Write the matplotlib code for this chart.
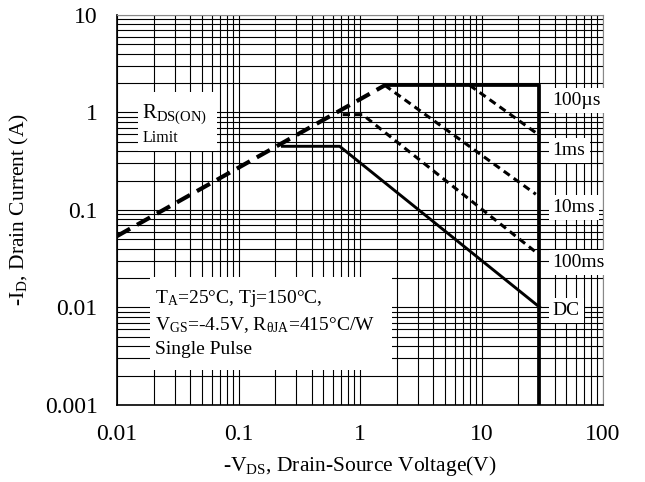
import matplotlib
matplotlib.use('Agg')
import matplotlib.pyplot as plt
from matplotlib.patches import Rectangle

plt.rcParams['font.family'] = ['Liberation Serif', 'DejaVu Serif']
plt.rcParams['mathtext.fontset'] = 'custom'
plt.rcParams['mathtext.rm'] = 'Liberation Serif'
plt.rcParams['mathtext.it'] = 'Liberation Serif:italic'

# safe operating area curves (V, A)
rds_v = [0.01, 1.6]
rds_i = [0.054, 1.9]
imax_v = [1.6, 30, 30]
imax_i = [1.9, 1.9, 0.001]
us100_v = [8.0, 28]
us100_i = [1.9, 0.62]
ms1_v = [1.6, 28]
ms1_i = [1.9, 0.145]
ms10_v = [0.72, 1.05, 28]
ms10_i = [0.95, 0.95, 0.037]
dc_v = [0.23, 0.68, 30]
dc_i = [0.45, 0.45, 0.0101]

curve_labels = ['100µs', '1ms', '10ms', '100ms', 'DC']
label_i = [1.34, 0.41, 0.107, 0.029, 0.0093]
label_v = 38.5

fig = plt.figure(figsize=(6.45, 4.82), dpi=100)
ax = fig.add_axes([0.1814, 0.1598, 0.7535, 0.8091])
ax.set_xscale('log'); ax.set_yscale('log')
ax.set_xlim(0.01, 100); ax.set_ylim(0.001, 10)

ax.grid(True, which='both', color='black', lw=0.8)
ax.set_axisbelow(True)
ax.tick_params(which='both', length=0, labelsize=17)
ax.tick_params(axis='x', pad=14)
ax.tick_params(axis='y', pad=14)
ax.set_xticks([0.01, 0.1, 1, 10, 100], ['0.01', '0.1', '1', '10', '100'])
ax.set_yticks([0.001, 0.01, 0.1, 1, 10], ['0.001', '0.01', '0.1', '1', '10'])
for s in ['top', 'right']:
    ax.spines[s].set_color('#888888')
for s in ['bottom', 'left']:
    ax.spines[s].set_linewidth(1.2)

# white boxes behind the annotations
box = dict(zorder=1.5, fc='white', ec='none', transform=ax.transAxes)
ax.add_patch(Rectangle((0.043, 0.652), 0.163, 0.151, **box))
ax.add_patch(Rectangle((0.068, 0.090), 0.498, 0.239, **box))

ax.plot(rds_v, rds_i, color='black', lw=3.0, dashes=(3.6, 1.9), zorder=3)
ax.plot(imax_v, imax_i, color='black', lw=2.7, zorder=3)
ax.plot(us100_v, us100_i, color='black', lw=2.2, dashes=(2.4, 1.6), zorder=3)
ax.plot(ms1_v, ms1_i, color='black', lw=2.2, dashes=(2.4, 1.6), zorder=3)
ax.plot(ms10_v, ms10_i, color='black', lw=2.2, dashes=(2.4, 1.6), zorder=3)
ax.plot(dc_v, dc_i, color='black', lw=2.1, zorder=3)

for lab, y in zip(curve_labels, label_i):
    ax.text(label_v, y, lab, fontsize=14, va='center', ha='left', zorder=4,
            bbox=dict(fc='white', ec='none', pad=3))

ax.text(0.052, 0.745, r'R$_\mathrm{DS(ON)}$', transform=ax.transAxes,
        fontsize=15, va='center', zorder=4)
ax.text(0.052, 0.685, 'Limit', transform=ax.transAxes, fontsize=11.5,
        va='center', zorder=4)

cond = ('T$_\\mathrm{A}$=25°C, Tj=150°C,\n'
        'V$_\\mathrm{GS}$=-4.5V, R$_\\mathrm{θJA}$=415°C/W\n'
        'Single Pulse')
ax.text(0.078, 0.21, cond, transform=ax.transAxes, fontsize=14,
        va='center', ha='left', linespacing=1.45, zorder=4)

ax.set_xlabel(r'-V$_\mathrm{DS}$, Drain-Source Voltage(V)', fontsize=15.5, labelpad=6)
ax.set_ylabel(r'-I$_\mathrm{D}$, Drain Current (A)', fontsize=15.5, labelpad=10)

fig.savefig('out.png', dpi=100)
